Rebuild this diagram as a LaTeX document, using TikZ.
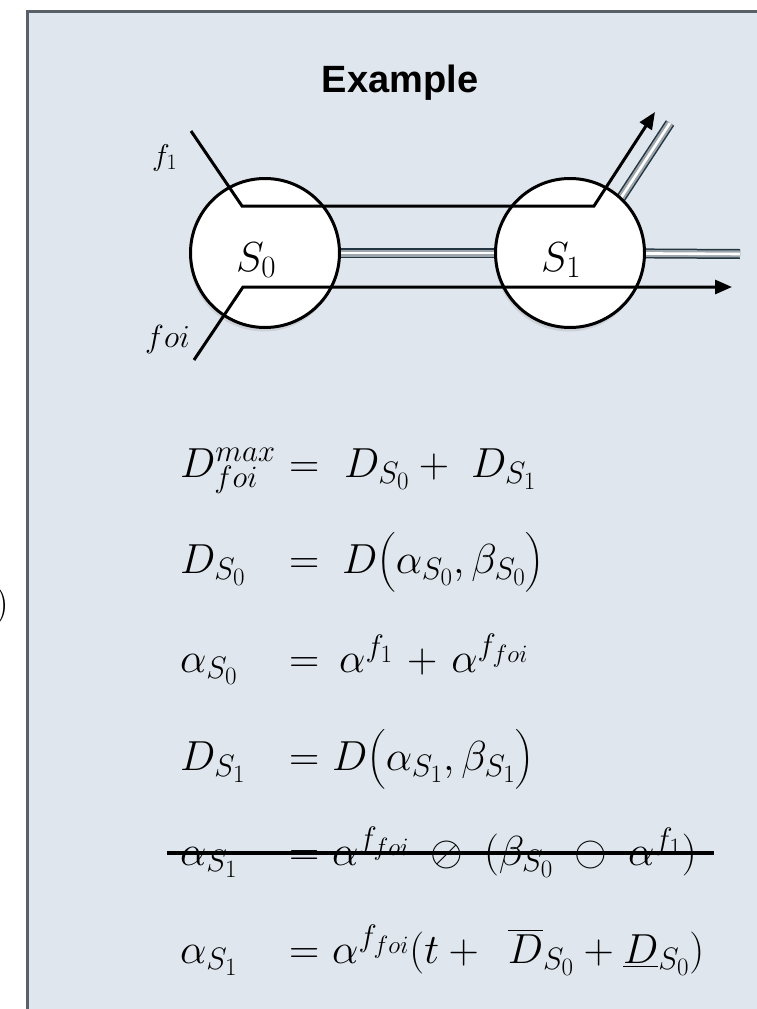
\RequirePackage{fix-cm}
\documentclass[tikz,border=0pt]{standalone}
\usepackage{amsmath}
\usepackage{fontspec}
\newfontfamily\titlefont{Liberation Sans}
\DeclareMathSizes{42}{42}{31}{25}
\DeclareMathSizes{30}{30}{22}{18}
\DeclareMathSizes{32}{32}{24}{19}
\usetikzlibrary{arrows.meta,shadows}
\definecolor{boxfill}{RGB}{223,230,237}
\definecolor{boxline}{RGB}{90,96,104}
\definecolor{tubedark}{RGB}{36,54,66}
\definecolor{tubegray}{RGB}{158,166,173}
\pgfdeclarelayer{background}
\pgfsetlayers{background,main}
\begin{document}
\begin{tikzpicture}[x=1pt,y=-1pt,
  stn/.style={circle,draw=black,line width=3pt,fill=white,minimum size=149pt,inner sep=0pt,
    drop shadow={shadow xshift=-1pt,shadow yshift=-4pt,opacity=0.2}},
  flow/.style={line width=3pt,black,line join=miter},
  flowarrow/.style={flow,-{Triangle[length=17pt,width=14pt]}},
  tubeouter/.style={line width=10pt,tubedark},
  tubemid/.style={line width=7pt,tubegray},
  tubehi/.style={line width=2.6pt,white},
  lab/.style={anchor=base west,inner sep=0pt},
  eqn/.style={anchor=base west,inner sep=0pt,font=\fontsize{42}{50}\selectfont},
  strike/.style={line width=3.5pt,black}
]
\useasboundingbox (0,0) rectangle (757,1009);

% outside fragment
\node[anchor=base east,inner sep=0pt,font=\fontsize{38}{44}\selectfont] (rp) at (9,615) {)};

% stations
\node[stn] (S0) at (265,253) {};
\node[stn] (S1) at (570,253) {};
\node[lab,font=\fontsize{42}{50}\selectfont] (S0lab) at (236,271) {$S_0$};
\node[lab,font=\fontsize{42}{50}\selectfont] (S1lab) at (541,271) {$S_1$};

% tube coordinates
\coordinate (t1) at (740,254);
\coordinate (t2) at (615,207);
\coordinate (t3) at (670,123);

\begin{pgfonlayer}{background}
  \fill[white] (0,0) rectangle (757,1009);
  \fill[boxfill] (27.5,11.5) rectangle (757,1009);
  \draw[boxline,line width=3pt] (27.5,1010) -- (27.5,11.5) -- (758,11.5);
  \foreach \st in {tubeouter,tubemid,tubehi}{
    \draw[\st] (S0.center) -- (S1.center);
    \draw[\st] (S1.center) -- (t1);
    \draw[\st] (t2) -- (t3);
  }
\end{pgfonlayer}

% flows
\coordinate (f1a) at (191,131);
\coordinate (f1b) at (242,206);
\coordinate (f1c) at (594,206);
\coordinate (f1d) at (655,112);
\draw[flowarrow] (f1a) -- (f1b) -- (f1c) -- (f1d);
\coordinate (foa) at (194,360);
\coordinate (fob) at (243,287);
\coordinate (foc) at (732,287);
\draw[flowarrow] (foa) -- (fob) -- (foc);

\node[lab,font=\fontsize{30}{36}\selectfont] (f1lab) at (152,165) {$f_1$};
\node[lab,font=\fontsize{32}{38}\selectfont] (foilab) at (145,347) {$foi$};

% title
\node[anchor=base,inner sep=0pt,font=\titlefont\bfseries\fontsize{38}{44}\selectfont] (title) at (400,92) {Example};

% equations
\node[eqn] (l1) at (180,477) {$D^{max}_{foi}$};
\node[eqn] (e1) at (289,477) {$=$};
\node[eqn] (r1) at (344,477) {$D_{S_0}+\ D_{S_1}$};

\node[eqn] (l2) at (180,573) {$D_{S_0}$};
\node[eqn] (e2) at (289,573) {$=$};
\node[eqn] (r2) at (342,573) {$D\bigl(\alpha_{S_0},\beta_{S_0}\bigr)$};

\node[eqn] (l3) at (180,672) {$\alpha_{S_0}$};
\node[eqn] (e3) at (289,672) {$=$};
\node[eqn] (r3) at (339,672) {$\alpha^{f_1}\mkern2mu+\mkern2mu\alpha^{f_{foi}}$};

\node[eqn] (l4) at (180,770) {$D_{S_1}$};
\node[eqn] (e4) at (289,770) {$=$};
\node[eqn] (r4) at (332,770) {$D\bigl(\alpha_{S_1},\beta_{S_1}\bigr)$};

\node[eqn] (l5) at (180,865) {$\alpha_{S_1}$};
\node[eqn] (e5) at (289,865) {$=$};
\node[eqn] (r5) at (332,865) {$\alpha^{f_{foi}}\;\oslash\;(\beta_{S_0}\;\ominus\;\alpha^{f_1})$};
\coordinate (s5a) at (167,853);
\coordinate (s5b) at (714,853);
\draw[strike] (s5a) -- (s5b);

\node[eqn] (l6) at (180,963) {$\alpha_{S_1}$};
\node[eqn] (e6) at (289,963) {$=$};
\node[eqn] (r6) at (332,963) {$\alpha^{f_{foi}}(t+\ \,\overline{D}_{S_0}+\underline{D}_{S_0})$};
\end{tikzpicture}
\end{document}
